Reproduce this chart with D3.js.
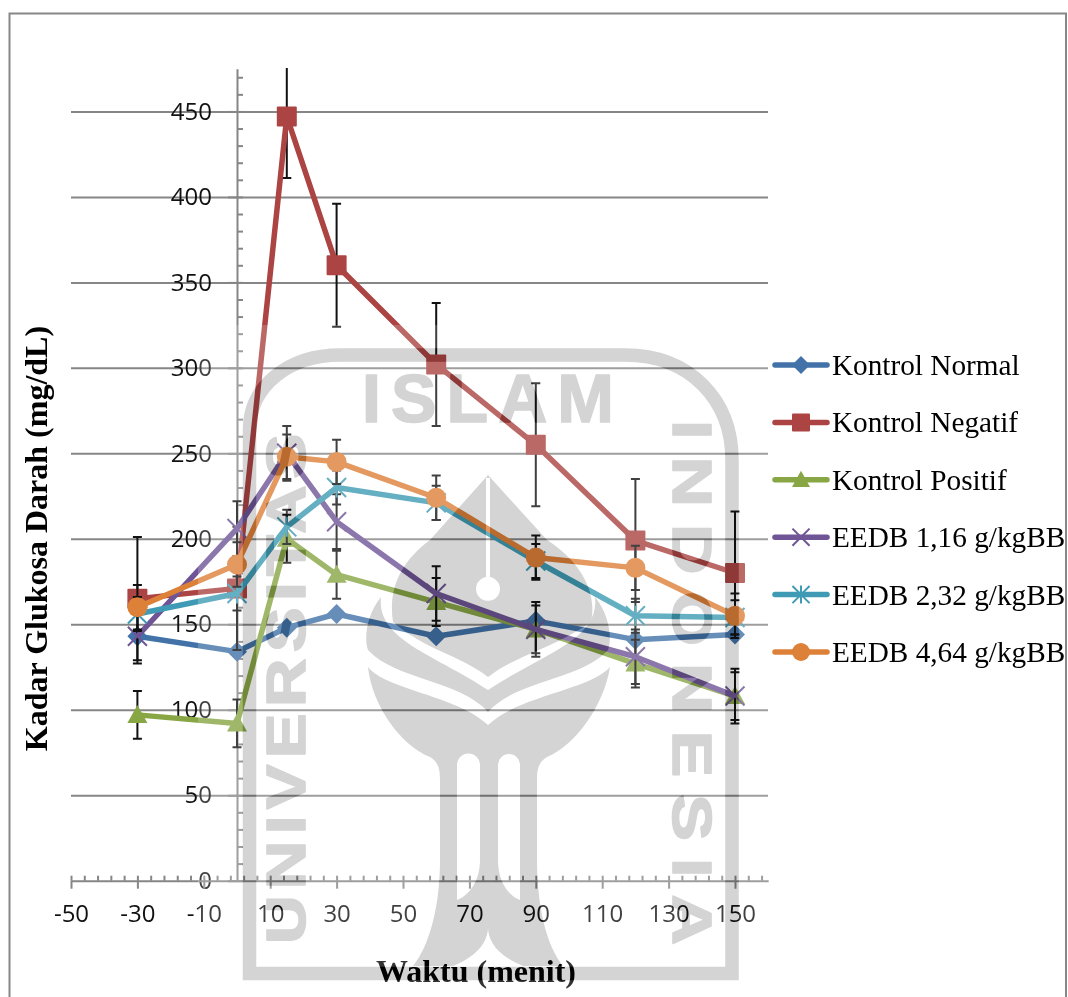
<!DOCTYPE html>
<html>
<head>
<meta charset="utf-8">
<script src="https://cdn.jsdelivr.net/npm/d3@7/dist/d3.min.js"></script>
<style>
html,body{margin:0;padding:0;background:#fff;overflow:hidden}
svg{display:block}
.tick text{font-family:"Open Sans",sans-serif;font-size:24px;fill:#111}
.serif{font-family:"Liberation Serif",serif;fill:#000}
.wm text{font-family:"Liberation Sans",sans-serif;font-weight:700;fill:#d4d4d4;stroke:#d4d4d4;stroke-width:1.6;stroke-linejoin:round}
</style>
</head>
<body>
<svg id="chart" width="1068" height="997"></svg>
<script>
const times = [-30, 0, 15, 30, 60, 90, 120, 150];
const seriesNames = ["Kontrol Normal","Kontrol Negatif","Kontrol Positif","EEDB 1,16 g/kgBB","EEDB 2,32 g/kgBB","EEDB 4,64 g/kgBB"];
const kontrolNormal  = [143, 134, 148, 156, 143, 152, 141, 144];
const kontrolNegatif = [165, 171, 447, 360, 302, 255, 199, 180];
const kontrolPositif = [97, 92, 200, 179, 163, 147, 127, 108];
const eedb116 = [143, 206, 250, 210, 168, 147, 131, 108];
const eedb232 = [156, 168, 207, 230, 221, 187, 155, 154];
const eedb464 = [160, 185, 248, 245, 224, 189, 183, 155];
const errNormal  = [0, 0, 0, 0, 0, 0, 0, 0];
const errNegatif = [36, 36, 36, 36, 36, 36, 36, 36];
const errPositif = [14, 14, 14, 14, 14, 14, 14, 14];
const err116 = [16, 16, 16, 16, 16, 16, 16, 16];
const err232 = [10, 10, 10, 10, 10, 10, 10, 10];
const err464 = [13, 13, 13, 13, 13, 13, 13, 13];
const seriesValues = [kontrolNormal, kontrolNegatif, kontrolPositif, eedb116, eedb232, eedb464];
const seriesErrors = [errNormal, errNegatif, errPositif, err116, err232, err464];
const seriesColors = ["#4272a8","#ab4442","#88a644","#6f5596","#3f9bb5","#dd8038"];
const seriesSymbols = ["diamond","square","triangle","x","star","circle"];
const xMajorTicks = [-50,-30,-10,10,30,50,70,90,110,130,150];
const yMajorTicks = [0,50,100,150,200,250,300,350,400,450];
const xTitle = "Waktu (menit)";
const yTitle = "Kadar Glukosa Darah (mg/dL)";

const svg = d3.select("#chart");
const x = d3.scaleLinear().domain([-50,160]).range([71,768.2]);
const y = d3.scaleLinear().domain([0,475]).range([880.7,68.7]);
const axisColor = "#868686";

// outer frame
svg.append("path").attr("d","M9.5,997V13.5H1066V997").attr("fill","none").attr("stroke","#878787").attr("stroke-width",2);

function styleAxis(g){
  g.selectAll("line").attr("stroke",axisColor).attr("stroke-width",2);
  g.selectAll(".domain").attr("stroke",axisColor).attr("stroke-width",2);
}
// gridlines
svg.append("g").attr("transform","translate(71,0)")
  .call(d3.axisLeft(y).tickValues(yMajorTicks.filter(d=>d>0)).tickSize(-697).tickFormat(""))
  .call(styleAxis).call(g=>g.select(".domain").remove());
// y axis
svg.append("g").attr("transform",`translate(${x(0)},0)`)
  .call(d3.axisLeft(y).tickValues(yMajorTicks).tickSize(9).tickPadding(16).tickSizeOuter(0).tickFormat(d=>String(d)))
  .call(styleAxis);
svg.append("g").attr("transform",`translate(${x(0)},0)`)
  .call(d3.axisRight(y).tickValues(d3.range(0,471,10)).tickSize(6).tickFormat("").tickSizeOuter(0))
  .call(styleAxis).call(g=>g.select(".domain").remove());
// x axis
svg.append("g").attr("transform",`translate(0,${y(0)})`)
  .call(d3.axisBottom(x).tickValues(xMajorTicks).tickSize(8).tickPadding(16).tickSizeOuter(0).tickFormat(d=>String(d)))
  .call(styleAxis);
svg.append("g").attr("transform",`translate(0,${y(0)})`)
  .call(d3.axisTop(x).tickValues(d3.range(-50,161,4)).tickSize(5).tickFormat("").tickSizeOuter(0))
  .call(styleAxis).call(g=>g.select(".domain").remove());

// symbols
function drawSymbol(g, kind, cx, cy, s, color){
  const r = s/2;
  if(kind==="diamond") g.append("path").attr("d",`M${cx},${cy-r}L${cx+r},${cy}L${cx},${cy+r}L${cx-r},${cy}Z`).attr("fill",color);
  if(kind==="square") g.append("rect").attr("x",cx-r).attr("y",cy-r).attr("width",s).attr("height",s).attr("rx",1).attr("fill",color);
  if(kind==="triangle") g.append("path").attr("d",`M${cx},${cy-r}L${cx+r},${cy+r*0.8}L${cx-r},${cy+r*0.8}Z`).attr("fill",color);
  if(kind==="circle") g.append("circle").attr("cx",cx).attr("cy",cy).attr("r",r).attr("fill",color);
  if(kind==="x"||kind==="star"){
    const k = r*0.95;
    let d = `M${cx-k},${cy-k}L${cx+k},${cy+k}M${cx-k},${cy+k}L${cx+k},${cy-k}`;
    if(kind==="star") d += `M${cx},${cy-r}L${cx},${cy+r}`;
    g.append("path").attr("d",d).attr("fill","none").attr("stroke",color).attr("stroke-width",2);
  }
}

// data
svg.append("clipPath").attr("id","plotClip").append("rect").attr("x",60).attr("y",68).attr("width",720).attr("height",830);
const plot = svg.append("g").attr("clip-path","url(#plotClip)");
const line = d3.line().x(d=>x(d.t)).y(d=>y(d.v));
seriesValues.forEach((vals,i)=>{
  const pts = vals.map((v,j)=>({t:times[j],v,e:seriesErrors[i][j]}));
  const g = plot.append("g");
  pts.filter(d=>d.e>0).forEach(d=>{
    const px = x(d.t);
    g.append("path")
     .attr("d",`M${px},${y(d.v-d.e)}V${y(d.v+d.e)}M${px-4.5},${y(d.v-d.e)}h9M${px-4.5},${y(d.v+d.e)}h9`)
     .attr("fill","none").attr("stroke","#111").attr("stroke-width",2);
  });
  g.append("path").datum(pts).attr("d",line).attr("fill","none").attr("stroke",seriesColors[i]).attr("stroke-width",5.5).attr("stroke-linejoin","round");
  pts.forEach(d=>drawSymbol(g,seriesSymbols[i],x(d.t),y(d.v),20,seriesColors[i]));
});

// titles
svg.append("text").attr("class","serif").attr("x",476).attr("y",982).attr("text-anchor","middle")
  .attr("font-size",32).attr("font-weight",700).text(xTitle);
svg.append("text").attr("class","serif").attr("transform","translate(47,538.5) rotate(-90)").attr("text-anchor","middle")
  .attr("font-size",32).attr("font-weight",700).text(yTitle);

// legend
seriesNames.forEach((n,i)=>{
  const ly = 365 + i*57.4;
  const g = svg.append("g");
  g.append("line").attr("x1",775).attr("x2",827).attr("y1",ly).attr("y2",ly).attr("stroke",seriesColors[i]).attr("stroke-width",5.5).attr("stroke-linecap","round");
  drawSymbol(g,seriesSymbols[i],801,ly,18,seriesColors[i]);
  g.append("text").attr("class","serif").attr("x",832).attr("y",ly+10).attr("font-size",29.25).text(n);
});

// university watermark laid over the page
const defs = svg.append("defs");
const wm = defs.append("g").attr("id","wmShapes").attr("class","wm");
wm.append("path").attr("fill","none").attr("stroke","#d4d4d4").attr("stroke-width",13.5)
  .attr("d","M249.5,973.5V430C249.5,385 290,355 340,355H625C690,355 732,400 732,460V973.5Z");
wm.append("path").attr("fill","#d4d4d4").attr("fill-rule","evenodd")
  .attr("d","M488,475L430,540C400,562 388,590 393,622C425,650 460,655 488,677C516,655 551,650 591,622C598,590 578,560 547,540L488,475Z"+
             "M486,478V577A12,12 0 1 0 490,577V478Z");
wm.append("path").attr("fill","#d4d4d4")
  .attr("d","M381,597C366,615 364,640 368,650C395,680 460,680 488,712C516,680 581,680 608,650C612,640 610,615 595,597C600,640 540,655 488,690C436,655 376,640 381,597Z");
wm.append("path").attr("fill","#d4d4d4").attr("fill-rule","evenodd")
  .attr("d","M368,667C372,705 400,745 430,757C438,762 440,768 440,780V860C440,905 430,945 413,966H453C480,955 488,940 488,927C488,940 496,955 523,966H563C546,945 537,905 537,860V780C537,768 539,762 547,757C576,745 604,705 610,667C590,690 520,695 488,725C456,695 386,690 368,667Z"+
             "M457,900V765A11,11 0 0 1 480,765V860C480,880 470,895 457,900ZM498,860V765A11,11 0 0 1 520,765V900C507,895 498,880 498,860Z");
wm.append("text").attr("x",362).attr("y",422).attr("font-size",68).attr("textLength",252).attr("lengthAdjust","spacing").text("ISLAM");
wm.append("text").attr("transform","translate(305,944) rotate(-90) scale(1.2,1)").attr("font-size",56).attr("textLength",425).attr("lengthAdjust","spacing").text("UNIVERSITAS");
wm.append("text").attr("transform","translate(673,420) rotate(90) scale(1.25,1)").attr("font-size",56).attr("textLength",420).attr("lengthAdjust","spacing").text("INDONESIA");

const mask = defs.append("mask").attr("id","washMask").attr("maskUnits","userSpaceOnUse").attr("x",0).attr("y",0).attr("width",1068).attr("height",997);
mask.append("rect").attr("x",0).attr("y",0).attr("width",1068).attr("height",997).attr("fill","#fff");
mask.append("use").attr("href","#wmShapes").style("filter","brightness(0)");

svg.append("rect").attr("x",198).attr("y",325).attr("width",574).attr("height",672).attr("fill","#fff").attr("fill-opacity",0.2).attr("mask","url(#washMask)");
svg.append("use").attr("href","#wmShapes").style("mix-blend-mode","multiply");
</script>
</body>
</html>
